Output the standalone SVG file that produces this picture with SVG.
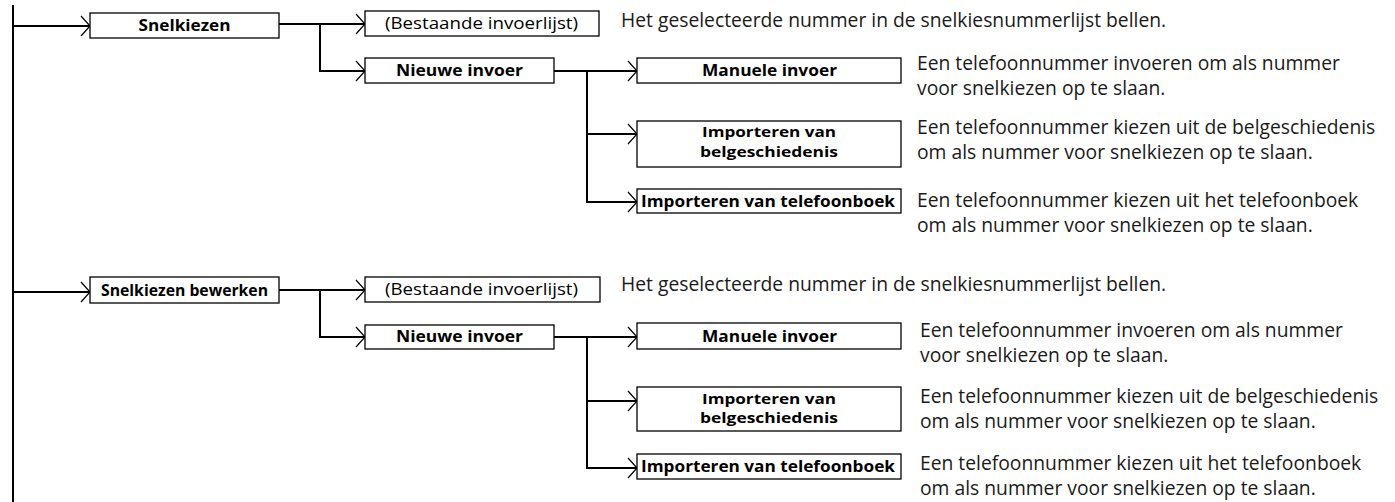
<svg xmlns="http://www.w3.org/2000/svg" width="1395" height="502" viewBox="0 0 1395 502">
<defs>
<marker id="arr" markerWidth="12" markerHeight="24" refX="10" refY="12" orient="auto" markerUnits="userSpaceOnUse">
<path d="M1,2 L10,12 L1,22" fill="none" stroke="#000" stroke-width="1.2"/>
</marker>
<style>
.box{fill:#fff;stroke:#000;stroke-width:1.3}
.lb{font-family:"Open Sans","Noto Sans",sans-serif;font-weight:bold;font-size:16.5px;fill:#000;text-anchor:middle}
.lb2{font-family:"Open Sans","Noto Sans",sans-serif;font-weight:bold;font-size:14.5px;fill:#000;text-anchor:middle}
.ln{font-family:"Open Sans","Noto Sans",sans-serif;font-weight:normal;font-size:17px;fill:#000;text-anchor:middle}
.ds{font-family:"Open Sans","Noto Sans",sans-serif;font-size:19.3px;fill:#1a1a1a}
.c{fill:none;stroke:#000;stroke-width:2}
.ca{fill:none;stroke:#000;stroke-width:2;marker-end:url(#arr)}
</style>
</defs>
<rect width="1395" height="502" fill="#fff"/>
<g id="connectors">
<path class="c" d="M13,5 V502"/>
<path class="ca" d="M13,26 H90"/>
<path class="ca" d="M279,24 H365"/>
<path class="ca" d="M320,24 V71 H365"/>
<path class="ca" d="M554,71 H637"/>
<path class="ca" d="M587,71 V134 H637"/>
<path class="ca" d="M587,134 V202 H637"/>
<path class="ca" d="M13,292 H90"/>
<path class="ca" d="M279,290 H365"/>
<path class="ca" d="M320,290 V337 H365"/>
<path class="ca" d="M554,337 H637"/>
<path class="ca" d="M587,337 V401 H637"/>
<path class="ca" d="M587,401 V468 H637"/>
</g>
<g id="n-snelkiezen"><rect class="box" x="90" y="13" width="189" height="25"/><text class="lb" x="184.5" y="31" textLength="92" lengthAdjust="spacingAndGlyphs">Snelkiezen</text></g>
<g id="n-bestaande1"><rect class="box" x="365" y="11" width="234" height="25"/><text class="ln" x="481.5" y="28.5" textLength="193" lengthAdjust="spacingAndGlyphs">(Bestaande invoerlijst)</text></g>
<g id="d-bestaande1"><text class="ds" x="621" y="27">Het geselecteerde nummer in de snelkiesnummerlijst bellen.</text></g>
<g id="n-nieuwe1"><rect class="box" x="365" y="58" width="189" height="25"/><text class="lb" x="459.5" y="75.5" textLength="127" lengthAdjust="spacingAndGlyphs">Nieuwe invoer</text></g>
<g id="n-manueel1"><rect class="box" x="637" y="58" width="264" height="25"/><text class="lb" x="769.5" y="75.5" textLength="135" lengthAdjust="spacingAndGlyphs">Manuele invoer</text></g>
<g id="d-manueel1"><text class="ds" x="917" y="70">Een telefoonnummer invoeren om als nummer</text><text class="ds" x="917" y="95">voor snelkiezen op te slaan.</text></g>
<g id="n-belg1"><rect class="box" x="637" y="121" width="264" height="46"/><text class="lb2" x="769" y="137" textLength="134" lengthAdjust="spacingAndGlyphs">Importeren van</text><text class="lb2" x="769" y="156.5" textLength="138" lengthAdjust="spacingAndGlyphs">belgeschiedenis</text></g>
<g id="d-belg1"><text class="ds" x="917" y="134">Een telefoonnummer kiezen uit de belgeschiedenis</text><text class="ds" x="917" y="159">om als nummer voor snelkiezen op te slaan.</text></g>
<g id="n-tel1"><rect class="box" x="637" y="189" width="264" height="24"/><text class="lb" x="768" y="206.5" textLength="254" lengthAdjust="spacingAndGlyphs">Importeren van telefoonboek</text></g>
<g id="d-tel1"><text class="ds" x="917" y="207">Een telefoonnummer kiezen uit het telefoonboek</text><text class="ds" x="917" y="232">om als nummer voor snelkiezen op te slaan.</text></g>
<g id="n-bewerken"><rect class="box" x="90" y="277" width="189" height="26"/><text class="lb" x="184.5" y="295.5" textLength="167" lengthAdjust="spacingAndGlyphs">Snelkiezen bewerken</text></g>
<g id="n-bestaande2"><rect class="box" x="365" y="277" width="235" height="25"/><text class="ln" x="481.5" y="294.5" textLength="193" lengthAdjust="spacingAndGlyphs">(Bestaande invoerlijst)</text></g>
<g id="d-bestaande2"><text class="ds" x="621" y="291">Het geselecteerde nummer in de snelkiesnummerlijst bellen.</text></g>
<g id="n-nieuwe2"><rect class="box" x="365" y="325" width="189" height="24"/><text class="lb" x="459.5" y="342" textLength="127" lengthAdjust="spacingAndGlyphs">Nieuwe invoer</text></g>
<g id="n-manueel2"><rect class="box" x="637" y="323" width="264" height="26"/><text class="lb" x="769.5" y="341.5" textLength="135" lengthAdjust="spacingAndGlyphs">Manuele invoer</text></g>
<g id="d-manueel2"><text class="ds" x="920" y="337">Een telefoonnummer invoeren om als nummer</text><text class="ds" x="920" y="362">voor snelkiezen op te slaan.</text></g>
<g id="n-belg2"><rect class="box" x="637" y="387" width="264" height="44"/><text class="lb2" x="769" y="403.5" textLength="134" lengthAdjust="spacingAndGlyphs">Importeren van</text><text class="lb2" x="769" y="423" textLength="138" lengthAdjust="spacingAndGlyphs">belgeschiedenis</text></g>
<g id="d-belg2"><text class="ds" x="920" y="403">Een telefoonnummer kiezen uit de belgeschiedenis</text><text class="ds" x="920" y="428">om als nummer voor snelkiezen op te slaan.</text></g>
<g id="n-tel2"><rect class="box" x="637" y="454" width="264" height="25"/><text class="lb" x="768" y="471.5" textLength="254" lengthAdjust="spacingAndGlyphs">Importeren van telefoonboek</text></g>
<g id="d-tel2"><text class="ds" x="920" y="470">Een telefoonnummer kiezen uit het telefoonboek</text><text class="ds" x="920" y="495">om als nummer voor snelkiezen op te slaan.</text></g>
</svg>
